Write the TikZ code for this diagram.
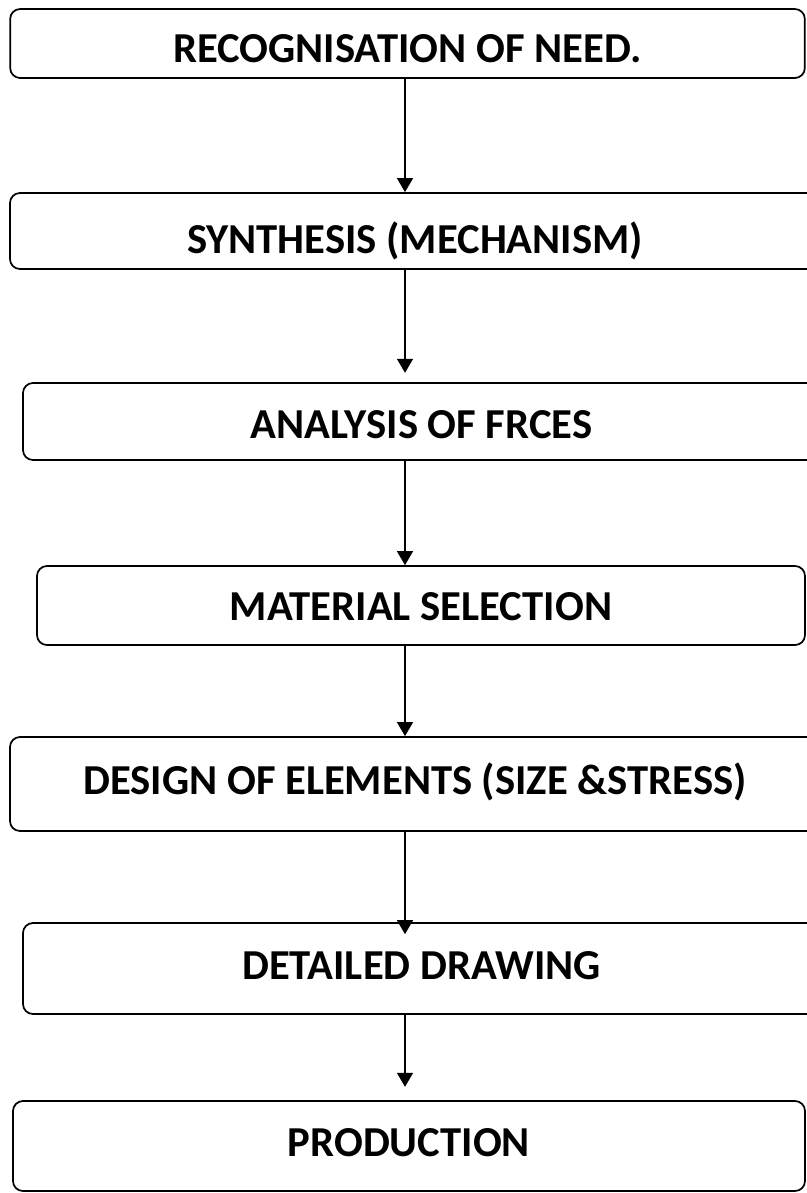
\documentclass[tikz,border=0pt]{standalone}
\usepackage{fontspec}
\setmainfont{Carlito}
\usepackage{tikz}
\usetikzlibrary{arrows.meta}
\tikzset{
  stage/.style={draw=black, line width=1.3pt, rounded corners=7.5pt, inner sep=0pt,
    font=\bfseries\fontsize{32}{38}\selectfont, text height=20pt, text depth=0pt},
  flow/.style={draw=black, line width=1.1pt, -{Triangle[length=10.5pt,width=12pt]}},
}

\begin{document}
\begin{tikzpicture}[x=0.75pt,y=-0.75pt]
  \useasboundingbox (0,0) rectangle (807,1193);
  \coordinate (ax) at (405,0);
  \node[stage,minimum width=596pt,minimum height=51.75pt,text height=29pt] (need) at (407.5,43.5) {RECOGNISATION OF NEED.};
  \node[stage,minimum width=607.5pt,minimum height=57pt,text height=33pt] (synth) at (415,231) {SYNTHESIS (MECHANISM)};
  \node[stage,minimum width=597.75pt,minimum height=57.75pt,text height=26pt] (forces) at (421.5,421.5) {ANALYSIS OF FRCES};
  \node[stage,minimum width=576pt,minimum height=59.25pt,text height=23pt] (matl) at (421,605.5) {MATERIAL SELECTION};
  \node[stage,minimum width=607.5pt,minimum height=70.5pt,text depth=5pt] (elem) at (415,784) {DESIGN OF ELEMENTS (SIZE \&STRESS)};
  \node[stage,minimum width=597.75pt,minimum height=68.25pt,text depth=4pt] (drawing) at (421.5,968.5) {DETAILED DRAWING};
  \node[stage,minimum width=594pt,minimum height=67.5pt,text depth=4pt] (prod) at (409,1146) {PRODUCTION};
  % arrows down the chain
  \draw[flow] (need.south -| ax) -- (synth.north -| ax);
  \draw[flow,shorten >=7pt] (synth.south -| ax) -- (forces.north -| ax);
  \draw[flow] (forces.south -| ax) -- (matl.north -| ax);
  \draw[flow] (matl.south -| ax) -- (elem.north -| ax);
  \draw[flow,shorten >=-9pt] (elem.south -| ax) -- (drawing.north -| ax);
  \draw[flow,shorten >=10pt] (drawing.south -| ax) -- (prod.north -| ax);
\end{tikzpicture}
\end{document}
